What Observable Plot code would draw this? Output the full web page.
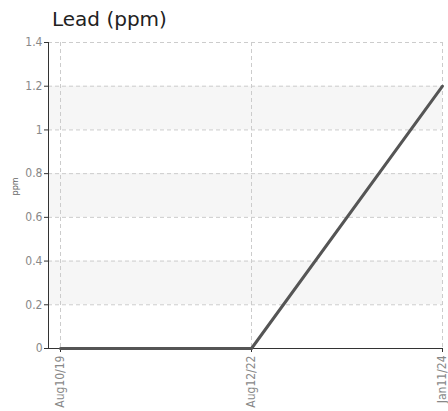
<!DOCTYPE html>
<html><head><meta charset="utf-8">
<script src="https://cdn.jsdelivr.net/npm/d3@7"></script>
<script src="https://cdn.jsdelivr.net/npm/@observablehq/plot@0.6"></script>
<style>
body{margin:0;background:#fff;}
#title{font-family:"DejaVu Sans",sans-serif;font-size:20px;color:#222;height:36px;box-sizing:border-box;padding:7px 0 0 52px;line-height:24px;}
svg{display:block;}
svg text{font-stretch:condensed;}
</style></head><body>
<div id="title">Lead (ppm)</div>
<div id="chart"></div>
<script>
const dates = ["Aug10/19", "Aug12/22", "Jan11/24"];
const values = [0, 0, 1.2];
const yTicks = [0, 0.2, 0.4, 0.6, 0.8, 1, 1.2, 1.4];
const bandLows = [0.2, 0.6, 1.0];
const bandHighs = [0.4, 0.8, 1.2];

const data = dates.map((d, i) => ({date: d, value: values[i]}));
const bands = bandLows.map((lo, i) => ({y1: lo, y2: bandHighs[i]}));
const tickFont = '"DejaVu Sans Condensed","Liberation Sans Narrow","DejaVu Sans",sans-serif';

const chart = Plot.plot({
  width: 448,
  height: 375,
  marginTop: 6,
  marginBottom: 63,
  marginLeft: 48,
  marginRight: 6,
  style: {fontFamily: tickFont, fontSize: "11px", color: "#888", background: "#fff"},
  x: {type: "point", domain: dates, insetLeft: 12, padding: 0},
  y: {domain: [0, 1.4]},
  marks: [
    Plot.rectY(bands, {y1: "y1", y2: "y2", fill: "#f6f6f6"}),
    Plot.gridY(yTicks, {stroke: "#ccc", strokeOpacity: 1, strokeDasharray: "4,3"}),
    Plot.gridX(dates, {stroke: "#ccc", strokeOpacity: 1, strokeDasharray: "4,3"}),
    Plot.axisY(yTicks, {tickSize: 4, stroke: "#333", fill: "#888", label: null, tickPadding: 2, fontSize: 12, tickFormat: d3.format("~g")}),
    Plot.text(["ppm"], {frameAnchor: "left", dx: -33, rotate: -90, fill: "#666", fontSize: 9}),
    Plot.axisX(dates, {tickSize: 4, stroke: "#333", fill: "#888", label: null, tickRotate: -90, tickPadding: 3, fontSize: 12}),
    Plot.frame({anchor: "left", stroke: "#333"}),
    Plot.ruleY([0], {stroke: "#333"}),
    Plot.lineY(data, {x: "date", y: "value", stroke: "#555", strokeWidth: 3})
  ]
});
document.getElementById("chart").appendChild(chart);
</script>
</body></html>
